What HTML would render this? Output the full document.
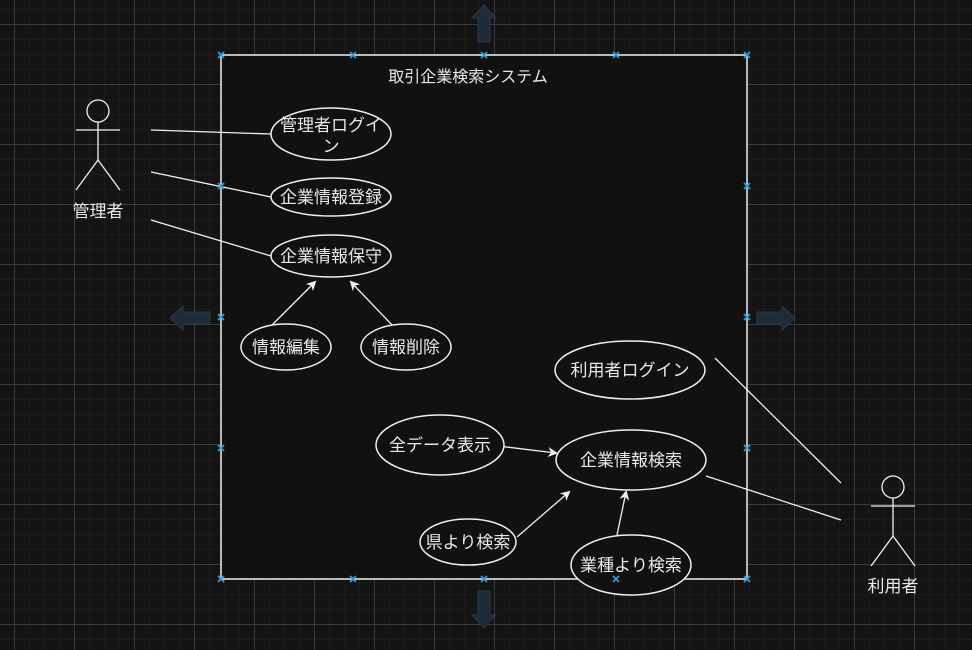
<!DOCTYPE html>
<html><head><meta charset="utf-8"><style>
html,body{margin:0;padding:0;background:#141414;}
svg{display:block;}
text{font-family:"Liberation Sans","Noto Sans CJK JP",sans-serif;fill:#e8e8e8;}
</style></head><body>
<svg width="972" height="650" viewBox="0 0 972 650" xmlns="http://www.w3.org/2000/svg">
<defs>
<pattern id="minor" width="15" height="15" patternUnits="userSpaceOnUse" x="14" y="9">
<path d="M0 0H15M0 0V15" stroke="#1f1f1f" stroke-width="1.2" fill="none"/>
</pattern>
<pattern id="major" width="60" height="60" patternUnits="userSpaceOnUse" x="14" y="24">
<path d="M0 0.5H60M0.5 0V60" stroke="#3a3a3a" stroke-width="1" fill="none"/>
</pattern>
<marker id="ah" markerWidth="10" markerHeight="10" refX="8" refY="5" orient="auto" markerUnits="userSpaceOnUse" viewBox="0 0 10 10">
<path d="M0 0L10 5L0 10L3 5Z" fill="#f0f0f0"/>
</marker>
</defs>
<rect width="972" height="650" fill="#141414"/>
<rect width="972" height="650" fill="url(#minor)"/>
<rect width="972" height="650" fill="url(#major)"/>

<g fill="#1e2b38" stroke="#28394a" stroke-width="1">
<path d="M484 5L496 18H490V42H478V18H472Z"/>
<path d="M484 628L496 615H490V591H478V615H472Z"/>
<path d="M170 318L183 306V312H210V324H183V330Z"/>
<path d="M795 318L782 306V312H757V324H782V330Z"/>
</g>

<rect x="221" y="55" width="526" height="524" fill="#111111" stroke="#f0f0f0" stroke-width="1.5"/>
<text x="468" y="82" font-size="16" text-anchor="middle">取引企業検索システム</text>

<g stroke="#f0f0f0" stroke-width="1.3" fill="none">
<line x1="151" y1="130" x2="271" y2="134"/>
<line x1="151" y1="172" x2="271" y2="197"/>
<line x1="151" y1="220" x2="271" y2="256"/>
<line x1="715" y1="358" x2="841" y2="483"/>
<line x1="706" y1="476" x2="841" y2="520"/>
<line x1="272" y1="325" x2="315" y2="282" marker-end="url(#ah)"/>
<line x1="392" y1="325" x2="351" y2="282" marker-end="url(#ah)"/>
<line x1="498" y1="446" x2="556" y2="453" marker-end="url(#ah)"/>
<line x1="517" y1="537" x2="569" y2="492" marker-end="url(#ah)"/>
<line x1="617" y1="535" x2="626" y2="492" marker-end="url(#ah)"/>
</g>

<g stroke="#f0f0f0" stroke-width="1.5" fill="#111111">
<ellipse cx="331" cy="134" rx="60" ry="26"/>
<ellipse cx="331" cy="197" rx="60" ry="19"/>
<ellipse cx="331" cy="256" rx="60" ry="21"/>
<ellipse cx="286" cy="347" rx="45" ry="23"/>
<ellipse cx="406" cy="347" rx="45" ry="23"/>
<ellipse cx="630" cy="370" rx="75" ry="29"/>
<ellipse cx="440" cy="445" rx="64" ry="30"/>
<ellipse cx="631" cy="460" rx="75" ry="30"/>
<ellipse cx="468" cy="542" rx="48" ry="23"/>
<ellipse cx="631" cy="565" rx="60" ry="30"/>
</g>

<g font-size="17" text-anchor="middle">
<text x="331" y="131">管理者ログイ</text>
<text x="331" y="152">ン</text>
<text x="331" y="203">企業情報登録</text>
<text x="331" y="262">企業情報保守</text>
<text x="286" y="353">情報編集</text>
<text x="406" y="353">情報削除</text>
<text x="630" y="376">利用者ログイン</text>
<text x="440" y="451">全データ表示</text>
<text x="631" y="466">企業情報検索</text>
<text x="468" y="548">県より検索</text>
<text x="631" y="571">業種より検索</text>
<text x="98" y="217">管理者</text>
<text x="893" y="592">利用者</text>
</g>

<g stroke="#f0f0f0" stroke-width="1.3" fill="none">
<circle cx="98" cy="111" r="11"/>
<line x1="98" y1="122" x2="98" y2="160"/>
<line x1="76" y1="130" x2="120" y2="130"/>
<line x1="98" y1="160" x2="76" y2="190"/>
<line x1="98" y1="160" x2="120" y2="190"/>
<circle cx="893" cy="487" r="11"/>
<line x1="893" y1="498" x2="893" y2="536"/>
<line x1="871" y1="506" x2="915" y2="506"/>
<line x1="893" y1="536" x2="871" y2="566"/>
<line x1="893" y1="536" x2="915" y2="566"/>
</g>

<g stroke="#2e9be0" stroke-width="1.8">
<path d="M218 52l6 6M224 52l-6 6"/>
<path d="M350 52l6 6M356 52l-6 6"/>
<path d="M481 52l6 6M487 52l-6 6"/>
<path d="M613 52l6 6M619 52l-6 6"/>
<path d="M744 52l6 6M750 52l-6 6"/>
<path d="M218 576l6 6M224 576l-6 6"/>
<path d="M350 576l6 6M356 576l-6 6"/>
<path d="M481 576l6 6M487 576l-6 6"/>
<path d="M613 576l6 6M619 576l-6 6"/>
<path d="M744 576l6 6M750 576l-6 6"/>
<path d="M218 183l6 6M224 183l-6 6"/>
<path d="M218 314l6 6M224 314l-6 6"/>
<path d="M218 445l6 6M224 445l-6 6"/>
<path d="M744 183l6 6M750 183l-6 6"/>
<path d="M744 314l6 6M750 314l-6 6"/>
<path d="M744 445l6 6M750 445l-6 6"/>
</g>
</svg>
</body></html>
